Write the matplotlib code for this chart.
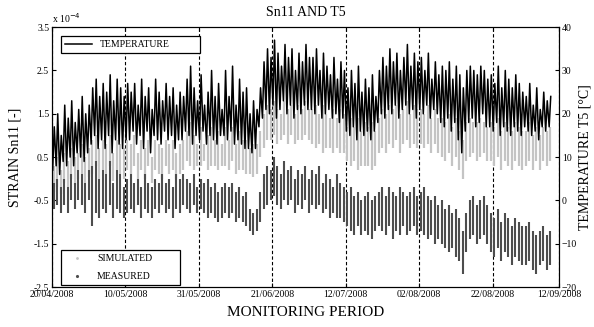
import matplotlib.pyplot as plt
import numpy as np
from matplotlib.lines import Line2D

plt.rcParams['font.family'] = ['Liberation Serif', 'DejaVu Serif']

# x axis: days since 20/04/2008
tick_days = [0, 21, 42, 63, 84, 105, 126, 145]
tick_labels = ['20/04/2008', '10/05/2008', '31/05/2008', '21/06/2008',
               '12/07/2008', '02/08/2008', '22/08/2008', '12/09/2008']

# temperature T5 [°C], daily max / min
temp_max = [17, 20, 15,
            22, 19, 23, 18, 21, 24, 20, 22,
            26, 28, 24, 27, 25, 29, 23, 28, 26, 24, 27,
            25, 27, 22, 28, 24, 26, 21, 28, 25, 23, 27, 24, 26, 22, 25,
            24, 28, 31, 26, 23, 29, 22, 25, 30, 24, 27, 21,
            30, 24, 31, 22, 28, 25, 26, 20, 23, 21,
            26, 32, 35, 33, 37, 34, 31, 36, 33, 35, 30, 34, 32, 36, 33,
            33, 35, 30, 34, 31, 29, 33, 28, 32, 30,
            26, 30, 27, 31, 25, 28, 26, 29, 24,
            30, 33, 31, 35, 32, 34, 30, 33, 36, 31, 34, 32,
            33, 30, 34, 28, 32, 29,
            31, 30, 32, 28, 31, 29, 26, 30,
            31, 30, 29, 31, 30, 28,
            29, 27, 31, 26, 30, 28, 26, 29, 27, 25,
            24, 27, 22, 26, 21, 25, 23, 24]
temp_min = [7, 8, 6,
            9, 8, 10, 8, 11, 10, 9, 11,
            13, 15, 12, 14, 12, 15, 11, 14, 13, 12, 14,
            14, 16, 13, 15, 12, 16, 11, 15, 14, 13, 16, 14, 15, 12, 14,
            14, 16, 15, 13, 15, 14, 16, 13, 15, 14, 13, 15,
            15, 14, 16, 13, 14, 13, 12, 12, 11, 12,
            17, 19, 21, 20, 22, 19, 21, 23, 20, 22, 19, 21, 20, 22, 21,
            21, 20, 22, 19, 20, 21, 19, 20, 18, 19,
            16, 15, 17, 14, 16, 15, 16, 14, 16,
            18, 20, 19, 21, 20, 22, 19, 21, 22, 20, 21, 19,
            21, 20, 22, 19, 21, 20,
            18, 17, 19, 16, 18, 14, 11, 16,
            18, 19, 17, 18, 20, 17,
            17, 16, 18, 15, 17, 16, 15, 17, 16, 15,
            17, 16, 15, 16, 14, 17, 16, 17]

# simulated strain Sn11 [x1e-4], daily high / low
sim_hi = [0.3, 0.5, 0.2,
          0.6, 0.4, 0.7, 0.5, 0.6, 0.8, 0.5, 0.7,
          0.9, 1.0, 0.7, 0.9, 0.8, 1.0, 0.6, 0.9, 0.8, 0.7, 0.9,
          0.8, 1.0, 0.6, 0.9, 0.7, 0.9, 0.5, 0.9, 0.8, 0.7, 0.9, 0.8, 0.9, 0.6, 0.8,
          0.9, 1.1, 1.3, 1.0, 0.8, 1.2, 0.8, 1.0, 1.2, 0.9, 1.1, 0.8,
          1.2, 0.9, 1.2, 0.8, 1.1, 0.9, 0.9, 0.7, 0.8, 0.8,
          1.1, 1.5, 1.7, 1.6, 1.8, 1.6, 1.5, 1.8, 1.6, 1.7, 1.5, 1.7, 1.6, 1.8, 1.6,
          1.6, 1.7, 1.5, 1.7, 1.5, 1.4, 1.6, 1.4, 1.6, 1.5,
          1.2, 1.4, 1.2, 1.4, 1.1, 1.3, 1.2, 1.3, 1.1,
          1.4, 1.6, 1.5, 1.7, 1.6, 1.7, 1.5, 1.6, 1.8, 1.5, 1.7, 1.6,
          1.6, 1.5, 1.7, 1.4, 1.6, 1.4,
          1.4, 1.3, 1.5, 1.2, 1.4, 1.1, 0.9, 1.3,
          1.4, 1.3, 1.3, 1.4, 1.3, 1.2,
          1.3, 1.2, 1.4, 1.1, 1.3, 1.2, 1.1, 1.3, 1.2, 1.1,
          1.1, 1.3, 1.0, 1.2, 1.0, 1.2, 1.1, 1.2]
sim_lo = [-0.3, -0.2, -0.35,
          -0.1, -0.2, 0.0, -0.15, 0.0, 0.1, -0.1, 0.05,
          0.1, 0.3, 0.0, 0.2, 0.1, 0.3, -0.05, 0.2, 0.1, 0.0, 0.2,
          0.1, 0.3, 0.0, 0.2, 0.0, 0.3, -0.1, 0.2, 0.1, 0.0, 0.3, 0.1, 0.2, 0.0, 0.1,
          0.2, 0.4, 0.3, 0.2, 0.3, 0.3, 0.4, 0.2, 0.3, 0.3, 0.2, 0.3,
          0.3, 0.2, 0.4, 0.1, 0.2, 0.2, 0.1, 0.1, 0.05, 0.1,
          0.5, 0.7, 0.9, 0.9, 1.0, 0.8, 0.9, 1.0, 0.8, 1.0, 0.8, 0.9, 0.9, 1.0, 0.9,
          0.8, 0.7, 0.8, 0.6, 0.7, 0.7, 0.6, 0.7, 0.6, 0.6,
          0.4, 0.3, 0.4, 0.2, 0.3, 0.3, 0.3, 0.2, 0.3,
          0.6, 0.7, 0.6, 0.8, 0.7, 0.9, 0.6, 0.8, 0.9, 0.7, 0.8, 0.7,
          0.8, 0.7, 0.8, 0.6, 0.8, 0.6,
          0.5, 0.4, 0.6, 0.3, 0.5, 0.2, 0.0, 0.4,
          0.5, 0.6, 0.4, 0.5, 0.6, 0.4,
          0.4, 0.3, 0.5, 0.2, 0.4, 0.3, 0.2, 0.4, 0.3, 0.2,
          0.3, 0.4, 0.2, 0.4, 0.2, 0.4, 0.3, 0.4]

# measured strain Sn11 [x1e-4], daily high / low
meas_hi = [-0.1, 0.0, -0.2,
           0.0, -0.2, 0.1, -0.1, 0.2, 0.1, -0.1, 0.2,
           0.3, 0.4, 0.0, 0.2, 0.1, 0.4, -0.1, 0.2, 0.1, -0.2, 0.0,
           0.1, -0.1, 0.0, -0.2, 0.1, -0.1, -0.2, 0.0, -0.1, 0.1, -0.1, 0.0, -0.2, 0.1, 0.0,
           0.1, 0.0, -0.1, 0.1, -0.2, 0.0, -0.1, 0.0, -0.2, -0.1, -0.3, -0.2,
           -0.1, -0.2, -0.1, -0.3, -0.2, -0.4, -0.3, -0.7, -0.8, -0.7,
           -0.3, 0.1, 0.3, 0.2, 0.5, 0.3, 0.1, 0.4, 0.2, 0.3, 0.0, 0.2, 0.1, 0.3, 0.0,
           0.2, 0.1, 0.3, -0.1, 0.1, 0.0, -0.2, 0.1, -0.1, -0.2,
           -0.3, -0.2, -0.4, -0.3, -0.5, -0.4, -0.3, -0.5, -0.4,
           -0.3, -0.2, -0.4, -0.2, -0.3, -0.4, -0.2, -0.3, -0.4, -0.3, -0.2, -0.4,
           -0.3, -0.2, -0.4, -0.5, -0.4, -0.6,
           -0.5, -0.7, -0.6, -0.8, -0.7, -0.9, -1.2, -0.8,
           -0.5, -0.4, -0.6, -0.5, -0.4, -0.6,
           -0.8, -0.9, -0.7, -1.0, -0.8, -0.9, -1.1, -0.9, -1.0, -1.1,
           -1.1, -1.0, -1.2, -1.3, -1.2, -1.1, -1.3, -1.2]
meas_lo = [-0.7, -0.6, -0.8,
           -0.6, -0.8, -0.5, -0.7, -0.5, -0.6, -0.8, -0.5,
           -1.1, -0.8, -0.9, -0.7, -0.8, -0.6, -0.9, -0.7, -0.8, -0.9, -0.8,
           -0.7, -0.8, -0.6, -0.9, -0.7, -0.8, -0.9, -0.7, -0.8, -0.6, -0.8, -0.7, -0.9, -0.7, -0.8,
           -0.6, -0.7, -0.8, -0.6, -0.8, -0.7, -0.8, -0.9, -0.8, -0.9, -1.0, -0.9,
           -0.8, -0.9, -0.8, -1.0, -0.9, -1.0, -1.1, -1.2, -1.3, -1.2,
           -1.0, -0.7, -0.6, -0.5, -0.4, -0.6, -0.7, -0.5, -0.6, -0.5, -0.8, -0.6, -0.7, -0.5, -0.8,
           -0.6, -0.7, -0.6, -0.8, -0.7, -0.9, -0.8, -0.9, -0.9, -1.0,
           -1.1, -1.2, -1.3, -1.1, -1.3, -1.2, -1.3, -1.4, -1.2,
           -1.1, -1.2, -1.3, -1.1, -1.4, -1.2, -1.3, -1.1, -1.3, -1.2, -1.1, -1.3,
           -1.2, -1.3, -1.4, -1.3, -1.5, -1.4,
           -1.5, -1.6, -1.7, -1.6, -1.8, -1.9, -2.2, -1.7,
           -1.4, -1.3, -1.5, -1.4, -1.3, -1.5,
           -1.7, -1.8, -1.6, -1.9, -1.7, -1.8, -2.0, -1.8, -1.9, -2.0,
           -2.0, -1.9, -2.1, -2.2, -2.0, -1.9, -2.1, -2.0]

days = np.arange(len(temp_max))
sim_color = '#c4c4c4'
meas_color = '#4d4d4d'

fig = plt.figure(figsize=(5.94, 3.27), dpi=100)
ax = fig.add_axes([0.0875, 0.122, 0.8535, 0.795])

# strain (left axis)
ax.vlines(days + 0.5, sim_lo, sim_hi, color=sim_color, lw=1.6)
ax.vlines(days + 0.5, meas_lo, meas_hi, color=meas_color, lw=1.5)
ax.set_xlim(0, 145)
ax.set_ylim(-2.5, 3.5)
ax.set_yticks([-2.5, -1.5, -0.5, 0.5, 1.5, 2.5, 3.5])
ax.set_yticklabels(['-2.5', '-1.5', '-0.5', '0.5', '1.5', '2.5', '3.5'])
ax.set_xticks(tick_days)
ax.set_xticklabels(tick_labels)
ax.grid(axis='x', color='k', linestyle=(0, (3, 2)), lw=0.8)
ax.tick_params(direction='in', labelsize=7, top=True, length=3, pad=2)
ax.set_ylabel('STRAIN Sn11 [-]', fontsize=10, labelpad=9)
ax.set_xlabel('MONITORING PERIOD', fontsize=11, labelpad=5)
ax.set_title('Sn11 AND T5', fontsize=10, pad=8)
ax.text(0.0, 1.008, r'x 10$^{-4}$', transform=ax.transAxes, fontsize=7,
        ha='left', va='bottom')

handles = [Line2D([], [], ls='', marker='.', ms=2, color=sim_color),
           Line2D([], [], ls='', marker='.', ms=2.5, color=meas_color)]
leg = ax.legend(handles, ['SIMULATED', 'MEASURED'], loc='lower left',
                bbox_to_anchor=(0.018, 0.008, 0.235, 0.155), mode='expand',
                fontsize=7, fancybox=False, edgecolor='k', framealpha=1,
                handlelength=2.5, borderaxespad=0, labelspacing=0.9)
leg.get_frame().set_linewidth(0.9)

# temperature (right axis)
ax2 = ax.twinx()
t_x = np.ravel(np.column_stack([days + 0.2, days + 0.65]))
t_y = np.ravel(np.column_stack([temp_min, temp_max]))
ax2.plot(t_x, t_y, color='k', lw=1.1, label='TEMPERATURE')
ax2.set_ylim(-20, 40)
ax2.set_yticks([-20, -10, 0, 10, 20, 30, 40])
ax2.tick_params(direction='in', labelsize=7, length=3, pad=2)
ax2.set_ylabel('TEMPERATURE T5 [°C]', fontsize=10, labelpad=1)
leg2 = ax2.legend(loc='upper left', bbox_to_anchor=(0.018, 0.965, 0.274, 0.0),
                  mode='expand', fontsize=7, fancybox=False, edgecolor='k',
                  framealpha=1, handlelength=2.8, borderaxespad=0)
leg2.get_frame().set_linewidth(0.9)

fig.savefig('out.png', dpi=100)
